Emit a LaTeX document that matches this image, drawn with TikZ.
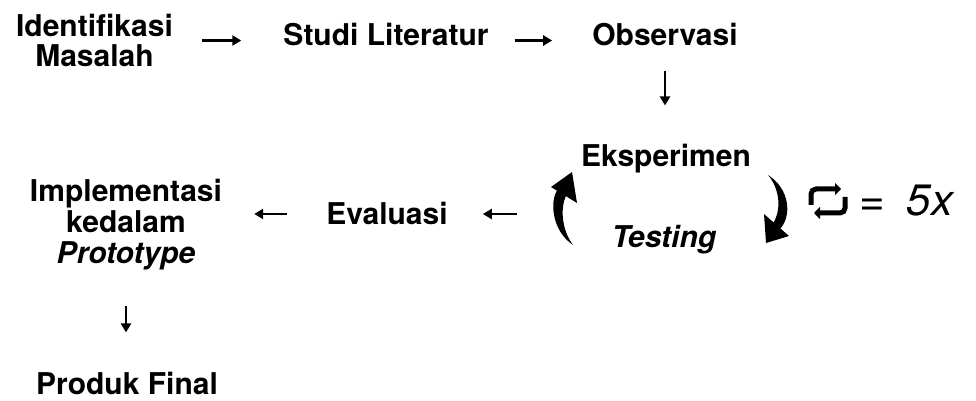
\documentclass[tikz,border=0pt]{standalone}
\usepackage{fontspec}
\setmainfont{TeX Gyre Heros}
\usetikzlibrary{arrows.meta}

\begin{document}
\begin{tikzpicture}[x=1pt,y=1pt,
    lbl/.style={font=\fontsize{30}{30}\selectfont\bfseries, inner sep=0pt, align=center},
    arr/.style={line width=2.5pt, -{Triangle[length=9pt,width=10pt]}}]
            \useasboundingbox (0,0) rectangle (976,401);
            \node [lbl, anchor=north] (ident) at (94.5,387) {Identifikasi\\Masalah};
            \node [lbl, anchor=base] (studi) at (386,355) {Studi Literatur};
            \node [lbl, anchor=base] (obs) at (665,355) {Observasi};
            \node [lbl, anchor=base] (eksp) at (666,234) {Eksperimen};
            \node [lbl, anchor=base] (test) at (664,153) {\itshape Testing};
            \node [lbl, anchor=base] (eval) at (387,176) {Evaluasi};
            \node [lbl, font=\fontsize{30}{31}\selectfont\bfseries, anchor=north] (impl) at (126,222) {Implementasi\\kedalam\\\itshape Prototype};
            \node [lbl, anchor=base] (prod) at (127,6) {Produk Final};
            \node [font=\fontsize{44}{44}\selectfont\itshape, inner sep=0pt, anchor=base west] (kali) at (859,185) {=\hspace{22pt}5x};
            \coordinate (loop) at (553,187);
            \draw [arr] ([xshift=29pt]ident.east) -- ([xshift=-42pt]studi.west |- ident.east);
            \draw [arr] ([xshift=26pt]studi.east |- ident.east) -- ([xshift=-40pt]obs.west |- ident.east);
            \draw [arr, shorten <=24pt, shorten >=39pt] (obs.south) -- (obs.south |- eksp.north);
            \draw [arr, shorten <=36pt, shorten >=35pt] (loop) -- (eval.east |- loop);
            \draw [arr, shorten <=39pt, shorten >=32pt] (eval.west) -- (impl.east |- eval.west);
            \draw [arr, shorten <=36pt, shorten >=40pt] (impl.south) -- (impl.south |- prod.north);
            % curved arrows round the experiment
            \fill (573,156) .. controls (552,170) and (549,200) .. (558,212) -- (567,207) .. controls (560,195) and (561,172) .. (573,156) -- cycle;
            \fill (572,229) -- (551,214) -- (577,198) -- cycle;
            \fill (768,226) .. controls (790,212) and (792,185) .. (780,172) -- (772,176) .. controls (782,190) and (780,212) .. (768,226) -- cycle;
            \fill (766,158) -- (764,187) -- (789,165) -- cycle;
            % repeat sign
            \draw [line width=5pt, rounded corners=5pt, -{Triangle[length=6pt,width=12pt]}] (811,196) -- (811,212) -- (841,212);
            \draw [line width=5pt, rounded corners=5pt, -{Triangle[length=6pt,width=12pt]}] (845,204) -- (845,188) -- (814,188);
        \end{tikzpicture}
\end{document}
